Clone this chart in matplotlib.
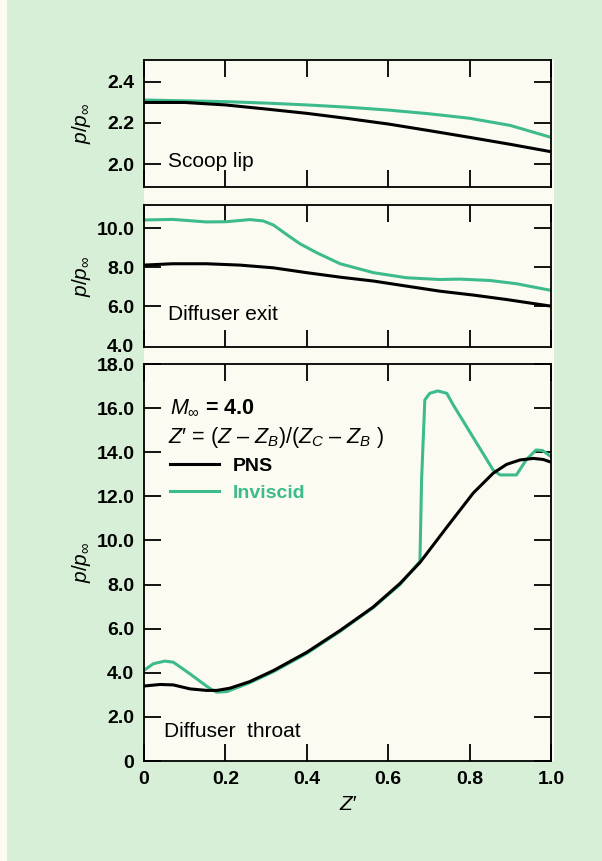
import matplotlib
matplotlib.use('Agg')
import matplotlib.pyplot as plt
from matplotlib.patches import Rectangle

plt.rcParams['font.family'] = 'Liberation Sans'
plt.rcParams['mathtext.fontset'] = 'custom'
plt.rcParams['mathtext.rm'] = 'Liberation Sans'
plt.rcParams['mathtext.it'] = 'Liberation Sans:italic'
plt.rcParams['mathtext.bf'] = 'Liberation Sans:bold'

BG = '#d6efd6'
CREAM = '#fcfbf1'
GREEN = '#3dbb8c'

# --- scoop lip ---
lip_x_pns = [0, 0.1, 0.2, 0.3, 0.4, 0.5, 0.6, 0.7, 0.8, 0.9, 1.0]
lip_pns = [2.300, 2.300, 2.288, 2.268, 2.247, 2.222, 2.195, 2.163, 2.130, 2.096, 2.060]
lip_x_inv = [0, 0.1, 0.2, 0.3, 0.4, 0.5, 0.6, 0.7, 0.8, 0.9, 1.0]
lip_inv = [2.312, 2.308, 2.304, 2.297, 2.288, 2.277, 2.263, 2.245, 2.223, 2.188, 2.130]

# --- diffuser exit ---
exit_x_pns = [0, 0.07, 0.153, 0.236, 0.318, 0.4, 0.482, 0.564, 0.645, 0.727,
              0.809, 0.891, 1.0]
exit_pns = [8.11, 8.18, 8.18, 8.11, 7.97, 7.72, 7.49, 7.29, 7.03, 6.77, 6.57, 6.34, 6.00]
exit_x_inv = [0, 0.07, 0.153, 0.202, 0.26, 0.293, 0.318, 0.35, 0.383, 0.424,
              0.482, 0.564, 0.645, 0.727, 0.776, 0.85, 0.916, 1.0]
exit_inv = [10.43, 10.46, 10.33, 10.34, 10.45, 10.38, 10.17, 9.69, 9.21, 8.75,
            8.18, 7.72, 7.46, 7.37, 7.39, 7.32, 7.15, 6.81]

# --- diffuser throat ---
thr_x_pns = [0, 0.04, 0.072, 0.113, 0.154, 0.179, 0.211, 0.26, 0.318, 0.40,
             0.482, 0.563, 0.629, 0.678, 0.744, 0.809, 0.858, 0.891, 0.924,
             0.957, 0.981, 1.0]
thr_pns = [3.40, 3.47, 3.45, 3.27, 3.20, 3.20, 3.30, 3.60, 4.10, 4.93,
           5.92, 6.98, 8.05, 9.00, 10.60, 12.15, 13.05, 13.45, 13.65,
           13.72, 13.67, 13.55]
thr_x_inv = [0, 0.023, 0.051, 0.072, 0.113, 0.154, 0.166, 0.179, 0.204, 0.26,
             0.318, 0.40, 0.482, 0.563, 0.629, 0.678, 0.682, 0.690, 0.702,
             0.722, 0.744, 0.760, 0.858, 0.875, 0.915, 0.939, 0.963, 0.979, 1.0]
thr_inv = [4.11, 4.41, 4.53, 4.48, 3.95, 3.39, 3.24, 3.12, 3.15, 3.55,
           4.05, 4.88, 5.88, 6.95, 8.00, 9.05, 12.74, 16.37, 16.67,
           16.78, 16.67, 16.14, 13.19, 12.97, 12.97, 13.65, 14.10, 14.08, 13.80]

xticks = [0, 0.2, 0.4, 0.6, 0.8, 1.0]
xtick_labels = ['0', '0.2', '0.4', '0.6', '0.8', '1.0']


def fmt(v):
    return '0' if v == 0 else '%.1f' % v


def style(ax, yticks, ylim):
    ax.set_facecolor(CREAM)
    ax.set_xlim(0, 1.0)
    ax.set_ylim(*ylim)
    ax.set_xticks(xticks)
    ax.set_yticks(yticks)
    ax.set_yticklabels([fmt(v) for v in yticks], fontweight='bold')
    ax.tick_params(direction='in', top=True, right=True, length=12, width=1.3,
                   labelsize=14, pad=7)
    for s in ax.spines.values():
        s.set_linewidth(1.3)
    ax.set_ylabel(r'$p/p_\infty$', fontsize=15)
    ax.yaxis.set_label_coords(-0.125, 0.5)


fig = plt.figure(figsize=(6.02, 8.61), dpi=100, facecolor=BG)
fig.patches.append(Rectangle((144 / 602, 1 - 761 / 861), (554 - 144) / 602, (761 - 60) / 861,
                             transform=fig.transFigure, facecolor=CREAM,
                             edgecolor='none', zorder=-5))
fig.patches.append(Rectangle((0, 0), 7 / 602, 1, transform=fig.transFigure,
                             facecolor=CREAM, edgecolor='none', zorder=-5))

left = 144 / 602
width = 407 / 602
ax1 = fig.add_axes([left, 1 - 187 / 861, width, 127 / 861])
ax2 = fig.add_axes([left, 1 - 347 / 861, width, 142 / 861])
ax3 = fig.add_axes([left, 1 - 761 / 861, width, 397 / 861])

# scoop lip
ax1.plot(lip_x_inv, lip_inv, color=GREEN, lw=2.2)
ax1.plot(lip_x_pns, lip_pns, color='black', lw=2.2)
style(ax1, [2.0, 2.2, 2.4], (1.888, 2.507))
ax1.set_xticklabels([])
ax1.text(0.058, 0.2, 'Scoop lip', transform=ax1.transAxes, fontsize=15, va='center')

# diffuser exit
ax2.plot(exit_x_inv, exit_inv, color=GREEN, lw=2.2)
ax2.plot(exit_x_pns, exit_pns, color='black', lw=2.2)
style(ax2, [4.0, 6.0, 8.0, 10.0], (3.9, 11.2))
ax2.set_xticklabels([])
t0 = ax2.yaxis.get_major_ticks()[0]
t0.tick1line.set_visible(False)
t0.tick2line.set_visible(False)
ax2.text(0.058, 0.23, 'Diffuser exit', transform=ax2.transAxes, fontsize=15, va='center')

# diffuser throat
ax3.plot(thr_x_inv, thr_inv, color=GREEN, lw=2.2, label='Inviscid')
ax3.plot(thr_x_pns, thr_pns, color='black', lw=2.2, label='PNS')
style(ax3, list(range(0, 19, 2)), (0, 18))
ax3.set_xticklabels(xtick_labels, fontweight='bold')
ax3.set_xlabel('Z′', fontsize=15, fontstyle='italic', labelpad=5)
ax3.text(0.048, 0.075, 'Diffuser  throat', transform=ax3.transAxes, fontsize=15, va='center')
ax3.text(0.064, 0.889, r'$M_\infty$ = 4.0', transform=ax3.transAxes, fontsize=15.5,
         fontweight='bold', va='center')
ax3.text(0.058, 0.816, r"$Z$′ = ($Z$ – $Z_B$)/($Z_C$ – $Z_B$ )", transform=ax3.transAxes,
         fontsize=15.5, va='center')
h, l = ax3.get_legend_handles_labels()
ax3.legend(h[::-1], l[::-1], loc='upper left', bbox_to_anchor=(0.064, 0.765),
           frameon=False, handlelength=2.5, handletextpad=0.7, labelspacing=0.5,
           borderpad=0, borderaxespad=0, labelcolor=['black', GREEN],
           prop={'weight': 'bold', 'size': 14})

fig.savefig('out.png', dpi=100, facecolor=BG)
